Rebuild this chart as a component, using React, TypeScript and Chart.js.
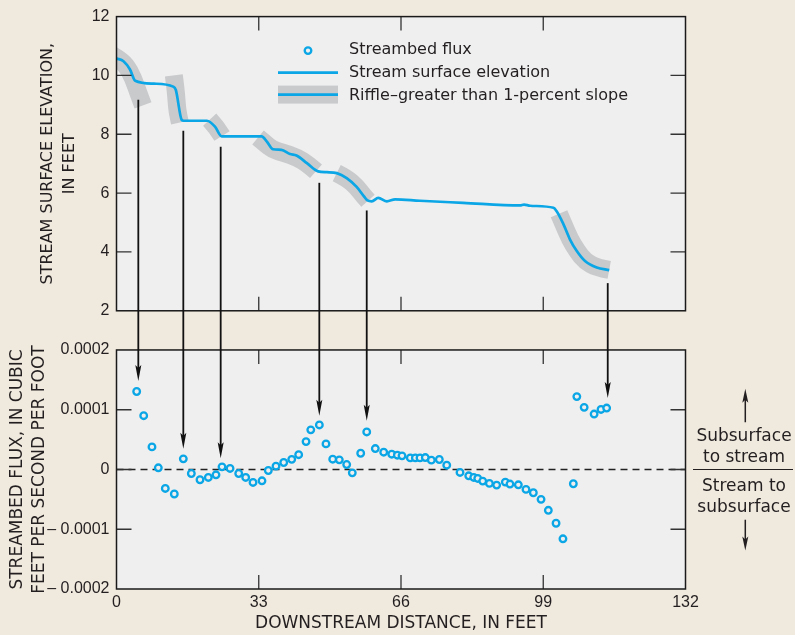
import React, { useEffect, useRef } from "react";
import { Chart, registerables } from "chart.js";

Chart.register(...registerables);

// ---------------- data ----------------
const distanceTicks = [0, 33, 66, 99, 132];
const elevationTicks = [2, 4, 6, 8, 10, 12];
const fluxTicks = [-0.0002, -0.0001, 0, 0.0001, 0.0002];
const fluxTickLabels = ["\u2013 0.0002", "\u2013 0.0001", "0", "0.0001", "0.0002"];

// stream surface elevation profile (feet)
const elevDistance = [
  0, 1.62, 3.13, 4.33, 8.65, 13.16, 13.76, 15.12, 15.57, 21.0, 22.85, 24.41, 33.68, 34.84,
  36.34, 38.25, 40.25, 41.76, 44.17, 46.78, 48.78, 51.09, 53.4, 55.71, 57.41, 58.22, 59.22,
  60.73, 62.73, 64.64, 70.36, 80.39, 93.64, 94.54, 95.95, 101.37, 102.07, 103.57, 105.18,
  106.78, 108.69, 111.4, 114.31,
];
const elevValue = [
  10.58, 10.48, 10.2, 9.82, 9.72, 9.62, 9.51, 8.49, 8.46, 8.46, 8.26, 7.93, 7.93, 7.76,
  7.49, 7.47, 7.33, 7.28, 7.02, 6.74, 6.71, 6.68, 6.51, 6.21, 5.89, 5.75, 5.72,
  5.84, 5.72, 5.79, 5.74, 5.67, 5.58, 5.61, 5.57, 5.5, 5.39, 4.98, 4.43,
  4.03, 3.69, 3.47, 3.38,
];

// riffles (greater than 1-percent slope) - band centerlines
const riffleDistance = [
  [-1.51, 0.12, 2.2, 3.83, 5.22, 6.15],
  [13.3, 13.7, 13.95, 14.2, 14.7],
  [21.62, 23.08, 24.48],
  [32.83, 34.22, 36.31, 38.63, 41.88, 44.43, 46.28],
  [51.09, 53.41, 55.73, 57.42, 58.35],
  [102.66, 103.59, 105.21, 106.84, 108.69, 111.41, 114.31],
];
const riffleElevation = [
  [10.74, 10.6, 10.36, 9.92, 9.35, 8.98],
  [10.0, 9.55, 9.1, 8.72, 8.4],
  [8.5, 8.27, 7.94],
  [7.89, 7.72, 7.47, 7.38, 7.21, 6.98, 6.74],
  [6.68, 6.51, 6.21, 5.89, 5.74],
  [5.3, 4.98, 4.43, 4.03, 3.69, 3.47, 3.39],
];

// streambed flux (cubic feet per second per foot)
const fluxDistance = [
  4.68, 6.31, 8.23, 9.7, 11.32, 13.41, 15.5, 17.36, 19.37, 21.3, 23.08, 24.48, 26.34, 28.35,
  29.97, 31.67, 33.75, 35.22, 37.0, 38.79, 40.65, 42.26, 43.97, 45.07, 47.06, 48.6, 50.16,
  51.69, 53.4, 54.7, 56.65, 58.05, 60.04, 61.99, 63.85, 65.15, 66.24, 68.16, 69.33, 70.41,
  71.64, 73.04, 74.89, 76.61, 79.69, 81.71, 82.87, 83.8, 84.96, 86.51, 88.19, 90.2, 91.28,
  93.22, 95.0, 96.7, 98.49, 100.18, 101.97, 103.57, 105.98, 106.79, 108.49, 110.8, 112.4,
  113.71,
];
const fluxValue = [
  1.305e-4, 0.9e-4, 0.378e-4, 0.028e-4, -0.317e-4, -0.41e-4, 0.178e-4, -0.067e-4, -0.172e-4,
  -0.133e-4, -0.089e-4, 0.044e-4, 0.017e-4, -0.067e-4, -0.133e-4, -0.217e-4, -0.189e-4,
  -0.017e-4, 0.056e-4, 0.117e-4, 0.17e-4, 0.247e-4, 0.467e-4, 0.663e-4, 0.745e-4, 0.428e-4,
  0.172e-4, 0.161e-4, 0.083e-4, -0.056e-4, 0.272e-4, 0.628e-4, 0.35e-4, 0.289e-4, 0.256e-4,
  0.239e-4, 0.228e-4, 0.194e-4, 0.194e-4, 0.194e-4, 0.2e-4, 0.156e-4, 0.167e-4, 0.072e-4,
  -0.05e-4, -0.106e-4, -0.133e-4, -0.15e-4, -0.194e-4, -0.233e-4, -0.261e-4, -0.211e-4,
  -0.244e-4, -0.256e-4, -0.333e-4, -0.389e-4, -0.5e-4, -0.683e-4, -0.9e-4, -1.16e-4,
  -0.239e-4, 1.22e-4, 1.04e-4, 0.928e-4, 1.005e-4, 1.028e-4,
];

// arrows linking riffles to flux
const arrowDistance = [5.06, 15.5, 24.17, 47.05, 58.05, 113.96];
const arrowFromElevation = [9.17, 8.12, 7.58, 6.35, 5.41, 2.94];
const arrowToFlux = [1.48e-4, 0.345e-4, 0.188e-4, 0.9e-4, 0.817e-4, 1.195e-4];

const legendLabels = [
  "Streambed flux",
  "Stream surface elevation",
  "Riffle\u2013greater than 1-percent slope",
];

// ---------------- styles ----------------
const PAGE_BG = "#f0e9de";
const PANEL_BG = "#efefef";
const BLUE = "#0aa6e6";
const GRAY = "#c9cacc";
const INK = "#231f20";
const TEXT_FONT = '"DejaVu Sans", "Noto Sans", sans-serif';
const NUM_FONT = '"Liberation Sans", Arial, sans-serif';
const RIFFLE_WIDTH = 18;

function arrowHead(ctx: CanvasRenderingContext2D, x: number, tipY: number, dir: number, len: number, hw: number) {
  ctx.beginPath();
  ctx.moveTo(x, tipY);
  ctx.lineTo(x - hw, tipY - dir * len);
  ctx.lineTo(x, tipY - dir * (len - 3));
  ctx.lineTo(x + hw, tipY - dir * len);
  ctx.closePath();
  ctx.fill();
}

const decorPlugin = {
  id: "decor",
  beforeDraw(chart: any) {
    const { ctx, chartArea: ca, scales } = chart;
    ctx.save();
    ctx.fillStyle = PANEL_BG;
    for (const id of ["yTop", "yBot"]) {
      const s = scales[id];
      ctx.fillRect(ca.left, s.top, ca.right - ca.left, s.bottom - s.top);
    }
    ctx.restore();
  },
  beforeDatasetsDraw(chart: any) {
    // riffle bands, mapped through the chart's x / yTop scales
    const { ctx, chartArea: ca, scales } = chart;
    const x = scales.x;
    const yTop = scales.yTop;
    ctx.save();
    ctx.beginPath();
    ctx.rect(ca.left, yTop.top, ca.right - ca.left, yTop.bottom - yTop.top);
    ctx.clip();
    ctx.strokeStyle = GRAY;
    ctx.lineWidth = RIFFLE_WIDTH;
    ctx.lineCap = "butt";
    ctx.lineJoin = "round";
    riffleDistance.forEach((xs, r) => {
      const pts = xs.map((d, i) => ({
        x: x.getPixelForValue(d),
        y: yTop.getPixelForValue(riffleElevation[r][i]),
      }));
      ctx.beginPath();
      ctx.moveTo(pts[0].x, pts[0].y);
      if (pts.length === 2) {
        ctx.lineTo(pts[1].x, pts[1].y);
      } else {
        for (let i = 1; i < pts.length - 1; i++) {
          const mx = (pts[i].x + pts[i + 1].x) / 2;
          const my = (pts[i].y + pts[i + 1].y) / 2;
          if (i === pts.length - 2) {
            ctx.quadraticCurveTo(pts[i].x, pts[i].y, pts[i + 1].x, pts[i + 1].y);
          } else {
            ctx.quadraticCurveTo(pts[i].x, pts[i].y, mx, my);
          }
        }
      }
      ctx.stroke();
    });
    ctx.restore();
  },
  afterDatasetsDraw(chart: any) {
    const { ctx, chartArea: ca, scales } = chart;
    const x = scales.x;
    const yTop = scales.yTop;
    const yBot = scales.yBot;
    ctx.save();

    // tick marks (inward) on all four sides of each panel
    ctx.strokeStyle = "#333";
    ctx.lineWidth = 1.3;
    const tickLen = 15;
    for (const s of [yTop, yBot]) {
      const n = s.ticks.length;
      s.ticks.forEach((t: any, i: number) => {
        if (i === 0 || i === n - 1) return;
        const py = s.getPixelForValue(t.value);
        ctx.beginPath();
        ctx.moveTo(ca.left, py);
        ctx.lineTo(ca.left + tickLen, py);
        ctx.moveTo(ca.right, py);
        ctx.lineTo(ca.right - tickLen, py);
        ctx.stroke();
      });
      const nx = x.ticks.length;
      x.ticks.forEach((t: any, i: number) => {
        if (i === 0 || i === nx - 1) return;
        const px = x.getPixelForValue(t.value);
        ctx.beginPath();
        ctx.moveTo(px, s.top);
        ctx.lineTo(px, s.top + 14);
        ctx.moveTo(px, s.bottom);
        ctx.lineTo(px, s.bottom - 14);
        ctx.stroke();
      });
    }

    // panel frames
    ctx.strokeStyle = "#1a1a1a";
    ctx.lineWidth = 1.5;
    for (const s of [yTop, yBot]) {
      ctx.strokeRect(ca.left, s.top, ca.right - ca.left, s.bottom - s.top);
    }

    // arrows from riffles down to flux points
    ctx.strokeStyle = "#111";
    ctx.fillStyle = "#111";
    ctx.lineWidth = 1.8;
    arrowDistance.forEach((d, i) => {
      const px = x.getPixelForValue(d);
      const y1 = yTop.getPixelForValue(arrowFromElevation[i]);
      const y2 = yBot.getPixelForValue(arrowToFlux[i]);
      ctx.beginPath();
      ctx.moveTo(px, y1);
      ctx.lineTo(px, y2 - 10);
      ctx.stroke();
      arrowHead(ctx, px, y2, 1, 16, 3);
    });

    // legend
    const lx0 = ca.left + 161.5;
    const lx1 = ca.left + 221.5;
    const tx = ca.left + 232.5;
    const r1 = ca.top + 34;
    const r2 = ca.top + 56;
    const r3 = ca.top + 78;
    ctx.beginPath();
    ctx.arc((lx0 + lx1) / 2, r1, 3.3, 0, Math.PI * 2);
    ctx.fillStyle = PANEL_BG;
    ctx.fill();
    ctx.strokeStyle = BLUE;
    ctx.lineWidth = 2.3;
    ctx.stroke();
    ctx.lineWidth = 2.7;
    ctx.beginPath();
    ctx.moveTo(lx0, r2);
    ctx.lineTo(lx1, r2);
    ctx.stroke();
    ctx.fillStyle = GRAY;
    ctx.fillRect(lx0, r3 - RIFFLE_WIDTH / 2, lx1 - lx0, RIFFLE_WIDTH);
    ctx.beginPath();
    ctx.moveTo(lx0, r3);
    ctx.lineTo(lx1, r3);
    ctx.stroke();
    ctx.fillStyle = INK;
    ctx.font = `16px ${TEXT_FONT}`;
    ctx.textAlign = "left";
    ctx.textBaseline = "alphabetic";
    ctx.fillText(legendLabels[0], tx, r1 + 3.7);
    ctx.fillText(legendLabels[1], tx, r2 + 4.3);
    ctx.fillText(legendLabels[2], tx, r3 + 5.4);

    // right-side flux direction annotation
    const y0 = yBot.getPixelForValue(0);
    const cx = ca.right + 58.5;
    ctx.strokeStyle = INK;
    ctx.lineWidth = 1.2;
    ctx.beginPath();
    ctx.moveTo(ca.right + 7.5, y0);
    ctx.lineTo(ca.right + 107.5, y0);
    ctx.stroke();
    ctx.font = `17px ${TEXT_FONT}`;
    ctx.textAlign = "center";
    ctx.fillStyle = INK;
    ctx.fillText("Subsurface", cx, y0 - 28.7);
    ctx.fillText("to stream", cx, y0 - 7.3);
    ctx.fillText("Stream to", cx, y0 + 22);
    ctx.fillText("subsurface", cx, y0 + 42.7);
    const ax = cx + 1.3;
    ctx.lineWidth = 1.5;
    ctx.beginPath();
    ctx.moveTo(ax, y0 - 47.3);
    ctx.lineTo(ax, y0 - 72);
    ctx.moveTo(ax, y0 + 50.3);
    ctx.lineTo(ax, y0 + 72);
    ctx.stroke();
    arrowHead(ctx, ax, y0 - 80.7, -1, 14, 3);
    arrowHead(ctx, ax, y0 + 81, 1, 14, 3);

    ctx.restore();
  },
};

export default function App() {
  const ref = useRef<HTMLCanvasElement>(null);

  useEffect(() => {
    const canvas = ref.current;
    if (!canvas) return;

    const toPts = (xs: number[], ys: number[]) => xs.map((v, i) => ({ x: v, y: ys[i] }));

    const chart = new Chart(canvas, {
      type: "line",
      data: {
        datasets: [
          {
            label: "Stream surface elevation",
            data: toPts(elevDistance, elevValue),
            xAxisID: "x",
            yAxisID: "yTop",
            borderColor: BLUE,
            borderWidth: 2.7,
            cubicInterpolationMode: "monotone",
            borderJoinStyle: "round",
            pointRadius: 0,
            fill: false,
            order: 4,
          },
          {
            label: "zero",
            data: [
              { x: distanceTicks[0], y: 0 },
              { x: distanceTicks[distanceTicks.length - 1], y: 0 },
            ],
            xAxisID: "x",
            yAxisID: "yBot",
            borderColor: "#222",
            borderWidth: 1.5,
            borderDash: [7, 5],
            pointRadius: 0,
            fill: false,
            order: 3,
          },
          {
            label: "Streambed flux",
            data: toPts(fluxDistance, fluxValue),
            xAxisID: "x",
            yAxisID: "yBot",
            showLine: false,
            pointStyle: "circle",
            pointRadius: 3.3,
            pointBorderWidth: 2.3,
            pointBorderColor: BLUE,
            pointBackgroundColor: PANEL_BG,
            order: 1,
          },
        ] as any,
      },
      options: {
        animation: false,
        responsive: false,
        events: [],
        layout: { padding: { top: 15, right: 109.5, bottom: 0, left: 0 } },
        plugins: {
          legend: { display: false },
          tooltip: { enabled: false },
        },
        scales: {
          x: {
            type: "linear",
            position: "bottom",
            min: distanceTicks[0],
            max: distanceTicks[distanceTicks.length - 1],
            afterBuildTicks: (s: any) => {
              s.ticks = distanceTicks.map((v) => ({ value: v }));
            },
            grid: { display: false, drawTicks: false },
            border: { display: false },
            ticks: {
              padding: 4,
              autoSkip: false,
              maxRotation: 0,
              color: INK,
              font: { family: NUM_FONT, size: 16 },
              callback: (v: any) => String(v),
            },
            title: {
              display: true,
              text: "DOWNSTREAM DISTANCE, IN FEET",
              color: INK,
              font: { family: TEXT_FONT, size: 17 },
              padding: { top: 0, bottom: 1 },
            },
            afterFit: (s: any) => {
              s.height = 46;
            },
          },
          yTop: {
            type: "linear",
            position: "left",
            stack: "panels",
            stackWeight: 295,
            weight: 3,
            min: elevationTicks[0],
            max: elevationTicks[elevationTicks.length - 1],
            afterBuildTicks: (s: any) => {
              s.ticks = elevationTicks.map((v) => ({ value: v }));
            },
            grid: { display: false, drawTicks: false },
            border: { display: false },
            ticks: {
              padding: 7,
              color: INK,
              font: { family: NUM_FONT, size: 16 },
              callback: (v: any) => String(v),
            },
            title: {
              display: true,
              text: ["STREAM SURFACE ELEVATION,", "IN FEET"],
              color: INK,
              font: { family: TEXT_FONT, size: 16, lineHeight: "22px" },
              padding: { top: 37, bottom: 0 },
            },
            afterFit: (s: any) => {
              s.width = 116.5;
            },
          },
          yGap: {
            type: "linear",
            position: "left",
            stack: "panels",
            stackWeight: 39.3,
            weight: 2,
            display: false,
            min: 0,
            max: 1,
          },
          yBot: {
            type: "linear",
            position: "left",
            stack: "panels",
            stackWeight: 239.7,
            weight: 1,
            min: fluxTicks[0],
            max: fluxTicks[fluxTicks.length - 1],
            afterBuildTicks: (s: any) => {
              s.ticks = fluxTicks.map((v) => ({ value: v }));
            },
            grid: { display: false, drawTicks: false },
            border: { display: false },
            ticks: {
              padding: 7,
              color: INK,
              font: { family: NUM_FONT, size: 16 },
              callback: (_v: any, i: number) => fluxTickLabels[i],
            },
            title: {
              display: true,
              text: ["STREAMBED FLUX, IN CUBIC", "FEET PER SECOND PER FOOT"],
              color: INK,
              font: { family: TEXT_FONT, size: 17, lineHeight: "22px" },
              padding: { top: 7, bottom: 0 },
            },
            afterFit: (s: any) => {
              s.width = 116.5;
            },
          },
        } as any,
      },
      plugins: [decorPlugin],
    });

    return () => chart.destroy();
  }, []);

  return (
    <div
      style={{
        position: "fixed",
        left: 0,
        top: 0,
        width: 795,
        height: 635,
        background: PAGE_BG,
      }}
    >
      <canvas ref={ref} width={795} height={635} style={{ display: "block", width: 795, height: 635 }} />
    </div>
  );
}
